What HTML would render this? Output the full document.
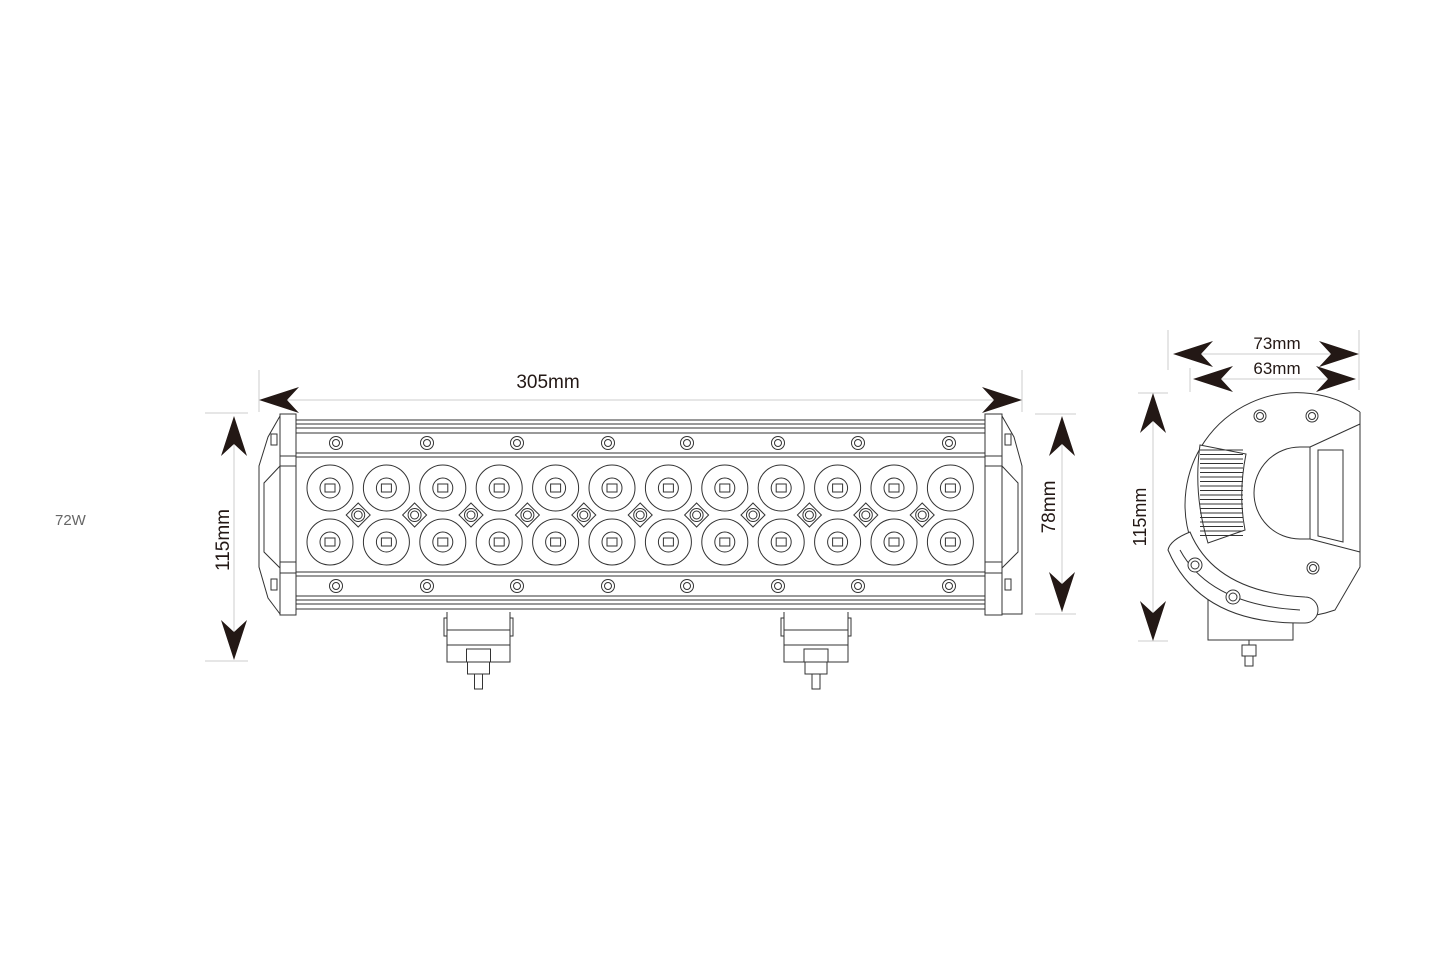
<!DOCTYPE html>
<html><head><meta charset="utf-8"><style>
html,body{margin:0;padding:0;background:#fff;}
svg{display:block;}
text{font-family:"Liberation Sans",sans-serif;}
</style></head><body>
<svg id="s" width="1445" height="968" viewBox="0 0 1445 968" xmlns="http://www.w3.org/2000/svg">
<g stroke="#ccc" stroke-width="1" fill="none">
<line x1="259" y1="370" x2="259" y2="412"/><line x1="1022" y1="370" x2="1022" y2="412"/>
<line x1="205" y1="413" x2="248" y2="413"/><line x1="205" y1="661" x2="248" y2="661"/>
<line x1="1035" y1="414" x2="1076" y2="414"/><line x1="1035" y1="614" x2="1076" y2="614"/>
<line x1="1138" y1="393" x2="1168" y2="393"/><line x1="1138" y1="641" x2="1168" y2="641"/>
<line x1="1168" y1="330" x2="1168" y2="370"/><line x1="1359" y1="330" x2="1359" y2="390"/>
<line x1="1190" y1="368" x2="1190" y2="392"/>
<line x1="262" y1="400" x2="1020" y2="400"/>
<line x1="234" y1="418" x2="234" y2="658"/>
<line x1="1062" y1="418" x2="1062" y2="612"/>
<line x1="1153" y1="396" x2="1153" y2="638"/>
<line x1="1175" y1="354" x2="1357" y2="354"/>
<line x1="1195" y1="379" x2="1355" y2="379"/>
</g>
<g fill="#231815" id="arrows"></g>
<g fill="#231815" font-size="19">
<text x="548" y="388" text-anchor="middle">305mm</text>
<text x="1277" y="349" text-anchor="middle" font-size="17">73mm</text>
<text x="1277" y="374" text-anchor="middle" font-size="17">63mm</text>
<text transform="translate(229,540) rotate(-90)" text-anchor="middle">115mm</text>
<text transform="translate(1055,507) rotate(-90)" text-anchor="middle">78mm</text>
<text transform="translate(1146,517) rotate(-90)" text-anchor="middle" font-size="18">115mm</text>
</g>
<text x="55" y="525" font-family="Liberation Serif,serif" font-size="15" fill="#666">72W</text>
<g id="bar" stroke="#333" stroke-width="1" fill="none">
<rect x="280" y="414" width="16" height="201"/><rect x="985" y="414" width="17" height="201"/>
<line x1="280" y1="456" x2="296" y2="456"/><line x1="280" y1="466" x2="296" y2="466"/>
<line x1="280" y1="562" x2="296" y2="562"/><line x1="280" y1="573" x2="296" y2="573"/>
<line x1="985" y1="456" x2="1002" y2="456"/><line x1="985" y1="466" x2="1002" y2="466"/>
<line x1="985" y1="562" x2="1002" y2="562"/><line x1="985" y1="573" x2="1002" y2="573"/>
<path d="M280 416 L268 437 L259 466 L259 567 L268 598 L280 614"/>
<path d="M280 466 L264 483 L264 552 L280 568"/>
<path d="M1002 416 L1014 437 L1022 466 L1022 614 L1002 614"/>
<path d="M1002 466 L1018 483 L1018 552 L1002 568"/>
<rect x="271" y="434" width="6" height="11"/><rect x="271" y="579" width="6" height="11"/>
<rect x="1005" y="434" width="6" height="11"/><rect x="1005" y="579" width="6" height="11"/>
<line x1="296" y1="420" x2="985" y2="420"/><line x1="296" y1="424" x2="985" y2="424"/>
<line x1="296" y1="428" x2="985" y2="428"/><line x1="296" y1="433" x2="985" y2="433"/>
<line x1="296" y1="453" x2="985" y2="453"/><line x1="296" y1="457" x2="985" y2="457"/>
<line x1="296" y1="572" x2="985" y2="572"/><line x1="296" y1="576" x2="985" y2="576"/>
<line x1="296" y1="596" x2="985" y2="596"/><line x1="296" y1="600" x2="985" y2="600"/>
<line x1="296" y1="604" x2="985" y2="604"/><line x1="296" y1="609" x2="985" y2="609"/>
</g>
<g id="side" stroke="#333" stroke-width="1" fill="none">
<path d="M1208 600 L1208 640 L1293 640 L1293 622"/>
<path d="M1360 412 A112 112 0 1 0 1335 610 L1360 567 L1360 412"/>
<path d="M1310 447 L1300 447 A46 46 0 0 0 1300 539 L1310 539"/>
<path d="M1310 447 L1360 424 M1310 539 L1360 552 M1310 447 L1310 539"/>
<path d="M1318 450 L1343 450 L1343 542 L1318 536 Z"/>
<path d="M1200 445 L1246 454 Q1238 494 1245 530 L1208 543 Q1193 494 1200 445Z" fill="#fff"/>
<g id="fins"></g>
<path d="M1190 532 Q1215 592 1305 597 A13 13 0 0 1 1305 623 Q1200 625 1168 550 Q1170 540 1190 532 Z" fill="#fff"/>
<path d="M1180 550 Q1210 605 1300 610"/>
<circle cx="1195" cy="565" r="7" fill="#fff"/><circle cx="1233" cy="597" r="7" fill="#fff"/>
<circle cx="1195" cy="565" r="4"/><circle cx="1233" cy="597" r="4"/>
<circle cx="1260" cy="416" r="6"/><circle cx="1260" cy="416" r="3.5"/>
<circle cx="1312" cy="416" r="6"/><circle cx="1312" cy="416" r="3.5"/>
<circle cx="1313" cy="568" r="6"/><circle cx="1313" cy="568" r="3.5"/>
<rect x="1242" y="645" width="14" height="11"/><rect x="1245" y="656" width="8" height="10"/>
<line x1="1249" y1="640" x2="1249" y2="645"/>
</g>
</svg>
<script>
var NS="http://www.w3.org/2000/svg";
function el(p,t,a){var e=document.createElementNS(NS,t);for(var k in a)e.setAttribute(k,a[k]);p.appendChild(e);return e;}
var bar=document.getElementById('bar');
[336,427,517,608,687,778,858,949].forEach(function(x){[443,586].forEach(function(y){el(bar,'circle',{cx:x,cy:y,r:6.5});el(bar,'circle',{cx:x,cy:y,r:3.5});});});
for(var i=0;i<12;i++){var x=330+i*56.4;[488,542].forEach(function(y){el(bar,'circle',{cx:x,cy:y,r:23});el(bar,'circle',{cx:x,cy:y,r:10});el(bar,'rect',{x:x-5,y:y-4,width:10,height:8});});
if(i<11){var dx=x+28.2,dy=515;el(bar,'path',{d:'M'+dx+' '+(dy-12)+' L'+(dx+12)+' '+dy+' L'+dx+' '+(dy+12)+' L'+(dx-12)+' '+dy+'Z'});el(bar,'circle',{cx:dx,cy:dy,r:6.5});el(bar,'circle',{cx:dx,cy:dy,r:4});}}
[[447,510],[784,848]].forEach(function(b){var a=b[0],c=b[1],m=(a+c)/2;
el(bar,'path',{d:'M'+a+' 612 L'+a+' 662 L'+c+' 662 L'+c+' 612'});
el(bar,'line',{x1:a,y1:630,x2:c,y2:630});el(bar,'line',{x1:a,y1:645,x2:c,y2:645});
el(bar,'rect',{x:a-3,y:618,width:3,height:18});el(bar,'rect',{x:c,y:618,width:3,height:18});
el(bar,'rect',{x:m-12,y:649,width:24,height:13});el(bar,'rect',{x:m-11,y:662,width:22,height:12});el(bar,'rect',{x:m-4,y:674,width:8,height:15});});
var f=document.getElementById('fins');
for(var y=450;y<540;y+=4.5){el(f,'line',{x1:1200,y1:y,x2:1243,y2:y});}
var ar=document.getElementById('arrows');
function arr(x,y,dx,dy){var L=40,W=13,B=12;var px=-dy,py=dx;
var d='M'+x+' '+y+' L'+(x+dx*L+px*W)+' '+(y+dy*L+py*W)+' L'+(x+dx*(L-B))+' '+(y+dy*(L-B))+' L'+(x+dx*L-px*W)+' '+(y+dy*L-py*W)+'Z';
el(ar,'path',{d:d});}
arr(259,400,1,0);arr(1022,400,-1,0);
arr(234,416,0,1);arr(234,660,0,-1);
arr(1062,416,0,1);arr(1062,612,0,-1);
arr(1153,393,0,1);arr(1153,641,0,-1);
arr(1173,354,1,0);arr(1359,354,-1,0);
arr(1193,379,1,0);arr(1356,379,-1,0);
</script>
</body></html>
